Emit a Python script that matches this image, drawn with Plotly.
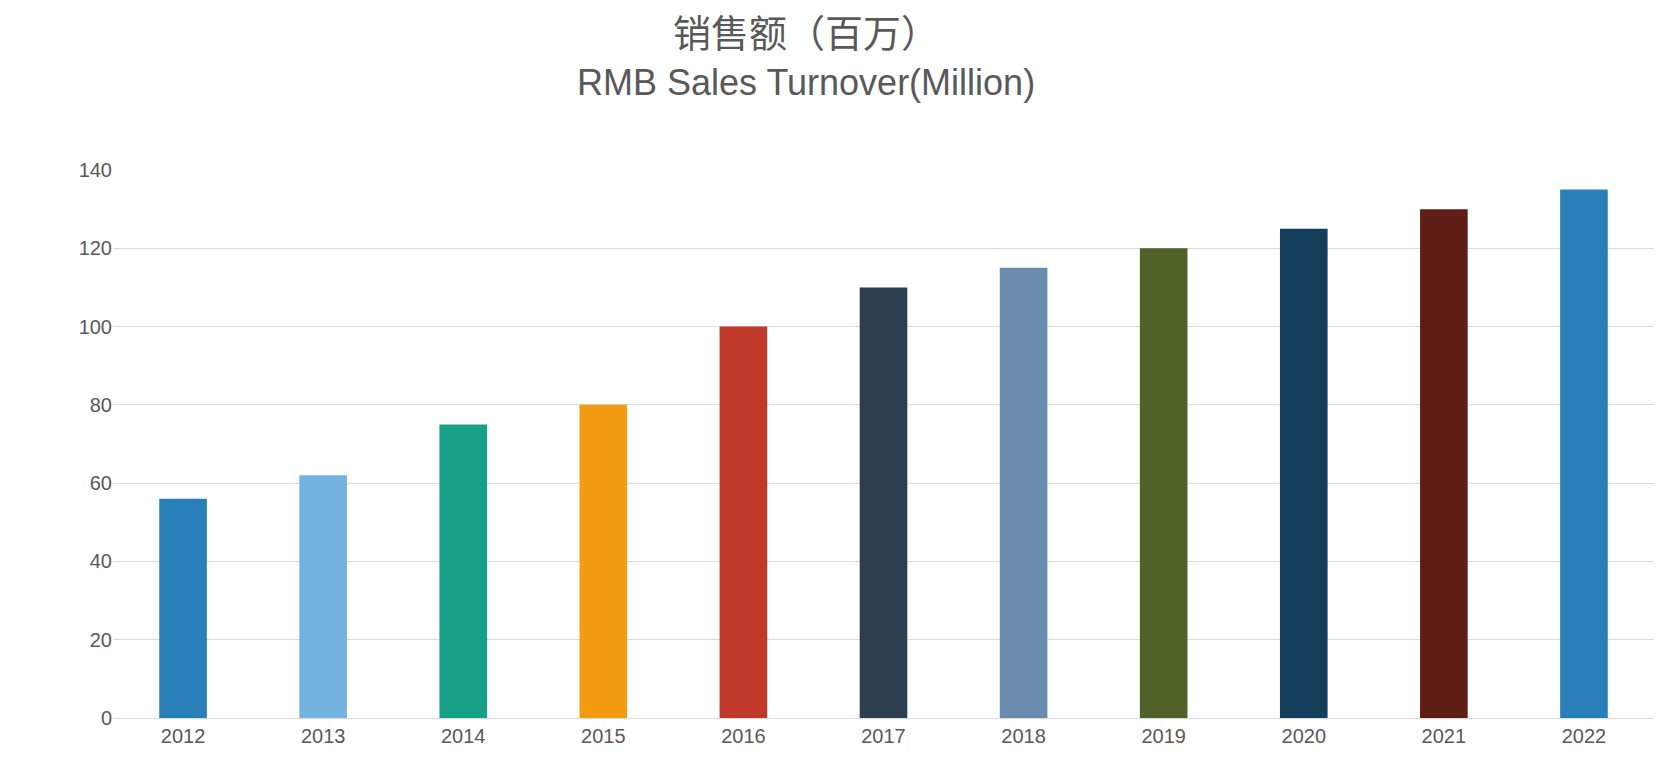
import plotly.graph_objects as go

years = ["2012","2013","2014","2015","2016","2017","2018","2019","2020","2021","2022"]
sales = [56, 62, 75, 80, 100, 110, 115, 120, 125, 130, 135]
colors = ["#2980b9","#74b3e0","#16a085","#f39c12","#c0392b","#2c3e50",
          "#6a8caf","#4f6228","#153e5c","#5f1e16","#2980b9"]

fig = go.Figure(go.Bar(x=years, y=sales, marker_color=colors, marker_line_width=0))
fig.update_layout(
    width=1662, height=770,
    paper_bgcolor="white", plot_bgcolor="white",
    margin=dict(l=105, r=16, t=162, b=60),
    bargap=0.66,
    showlegend=False,
    font=dict(family="Arial, Liberation Sans, Noto Sans CJK SC", color="#595959"),
    annotations=[
        dict(text="销售额（百万）", xref="paper", yref="paper", x=0.45, y=1, yshift=140,
             xanchor="center", yanchor="middle", showarrow=False,
             font=dict(size=38, color="#595959", family="Noto Sans CJK SC")),
        dict(text="RMB Sales Turnover(Million)", xref="paper", yref="paper", x=0.45, y=1, yshift=88,
             xanchor="center", yanchor="middle", showarrow=False,
             font=dict(size=36, color="#595959", family="Liberation Sans")),
    ],
    xaxis=dict(showline=True, linecolor="#d9d9d9", tickfont=dict(size=20, color="#595959"),
               ticks=""),
    yaxis=dict(range=[0, 140], dtick=20, gridcolor="#d9d9d9", zeroline=False,
               tickfont=dict(size=20, color="#595959"), ticks="", ticklen=0),
)
fig.write_html("out.html")
